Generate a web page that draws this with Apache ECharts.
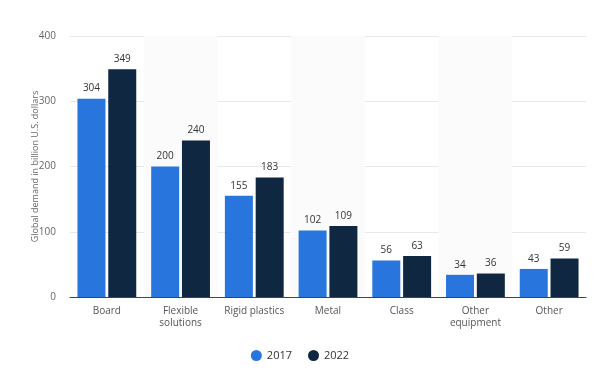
<!DOCTYPE html>
<html><head><meta charset="utf-8">
<script src="https://cdn.jsdelivr.net/npm/echarts@6/dist/echarts.min.js"></script>
<style>html,body{margin:0;padding:0;background:#fff}#c{width:600px;height:374px}</style>
</head><body><div id="c"></div>
<script>
const categories = ['Board', 'Flexible\nsolutions', 'Rigid plastics', 'Metal', 'Class', 'Other\nequipment', 'Other'];
const values2017 = [304, 200, 155, 102, 56, 34, 43];
const values2022 = [349, 240, 183, 109, 63, 36, 59];
const seriesNames = ['2017', '2022'];
const yTicks = {min: 0, max: 400, interval: 100};

const font = 'Open Sans, Arial, sans-serif';
const chart = echarts.init(document.getElementById('c'), null, {renderer: 'canvas'});
const lbl = {show: true, position: 'top', distance: 5, color: '#333', fontSize: 10, fontFamily: font};
chart.setOption({
  animation: false,
  textStyle: {fontFamily: font},
  grid: {left: 70, right: 14, top: 36, bottom: 77},
  legend: {
    bottom: 8, left: 'center', icon: 'circle', itemWidth: 11, itemHeight: 11, itemGap: 16,
    textStyle: {fontSize: 11, color: '#333', fontFamily: font},
    data: seriesNames
  },
  xAxis: {
    type: 'category', data: categories,
    axisLine: {lineStyle: {color: '#444', width: 1}},
    axisTick: {show: false},
    axisLabel: {color: '#555', fontSize: 10, margin: 8, lineHeight: 12, interval: 0, fontFamily: font},
    splitArea: {show: true, areaStyle: {color: ['rgba(255,255,255,0)', '#fbfbfb']}}
  },
  yAxis: {
    type: 'value', min: yTicks.min, max: yTicks.max, interval: yTicks.interval,
    name: 'Global demand in billion U.S. dollars', nameLocation: 'middle', nameGap: 30,
    nameMoveOverlap: false,
    nameTextStyle: {color: '#666', fontSize: 9, fontFamily: font},
    axisLine: {show: false}, axisTick: {show: false},
    axisLabel: {color: '#666', fontSize: 10, margin: 14, fontFamily: font},
    splitLine: {lineStyle: {color: '#e8e8e8'}}
  },
  series: [
    {name: seriesNames[0], type: 'bar', data: values2017, barWidth: 28, barGap: '10%',
     itemStyle: {color: '#2876dd'}, label: lbl},
    {name: seriesNames[1], type: 'bar', data: values2022, barWidth: 28,
     itemStyle: {color: '#0f2741'}, label: lbl}
  ]
});
</script></body></html>
